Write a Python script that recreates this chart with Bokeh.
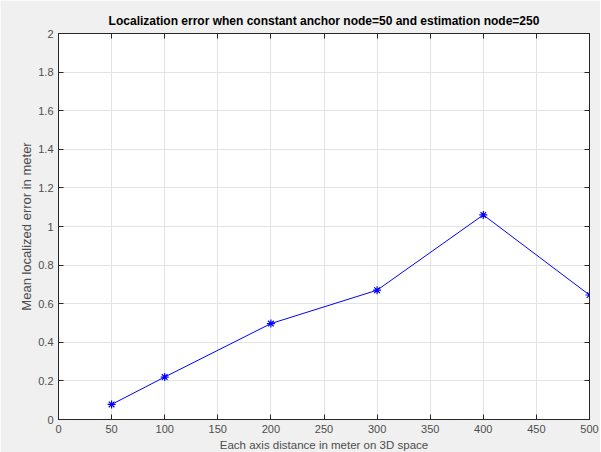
from bokeh.plotting import figure
from bokeh.models import LinearAxis, FixedTicker, Range1d
from bokeh.embed import file_html
from bokeh.resources import INLINE

distance = [50, 100, 200, 300, 400, 500]
mean_error = [0.078, 0.22, 0.497, 0.67, 1.06, 0.645]
x_ticks = [0, 50, 100, 150, 200, 250, 300, 350, 400, 450, 500]
y_ticks = [0, 0.2, 0.4, 0.6, 0.8, 1.0, 1.2, 1.4, 1.6, 1.8, 2.0]
y_tick_labels = {0: "0", 0.2: "0.2", 0.4: "0.4", 0.6: "0.6", 0.8: "0.8", 1.0: "1",
                 1.2: "1.2", 1.4: "1.4", 1.6: "1.6", 1.8: "1.8", 2.0: "2"}

FONT = "Liberation Sans"
BG = "#f0f0f0"
AX = "#262626"
LBL = "#4d4d4d"

p = figure(frame_width=531, frame_height=386, output_backend="svg", toolbar_location=None,
           x_range=Range1d(0, 500), y_range=Range1d(0, 2),
           x_axis_location=None, y_axis_location=None,
           min_border_left=58, min_border_right=11, min_border_top=33, min_border_bottom=30)
p.background_fill_color = "white"
p.border_fill_color = BG
p.outline_line_color = AX
p.outline_line_width = 1

p.title.text = "Localization error when constant anchor node=50 and estimation node=250"
p.title.text_font = FONT
p.title.text_font_size = "12px"
p.title.text_font_style = "bold"
p.title.text_color = "#000000"
p.title.align = "center"
p.title.offset = 0
p.title.standoff = 11

def style(ax, labels=True):
    ax.axis_line_color = AX
    ax.major_tick_line_color = AX
    ax.major_tick_in = 5
    ax.major_tick_out = 0
    ax.minor_tick_line_color = None
    ax.major_label_text_font = FONT
    ax.major_label_text_font_size = "11px"
    ax.major_label_text_color = LBL
    ax.axis_label_text_font = FONT
    ax.axis_label_text_font_style = "normal"
    ax.axis_label_text_color = LBL

xb = LinearAxis(ticker=FixedTicker(ticks=x_ticks), axis_label="Each axis distance in meter on 3D space")
style(xb)
xb.axis_label_text_font_size = "11.5px"
xb.major_label_standoff = 5
xb.axis_label_standoff = 3
p.add_layout(xb, "below")

yl = LinearAxis(ticker=FixedTicker(ticks=y_ticks), axis_label="Mean localized error in meter")
style(yl)
yl.axis_label_text_font_size = "13px"
yl.major_label_overrides = y_tick_labels
yl.major_label_standoff = 5
yl.axis_label_standoff = 1
p.add_layout(yl, "left")

xt = LinearAxis(ticker=FixedTicker(ticks=x_ticks))
style(xt, labels=False)
xt.major_label_overrides = {t: "" for t in x_ticks}
xt.major_label_standoff = 0
p.add_layout(xt, "above")

yr = LinearAxis(ticker=FixedTicker(ticks=y_ticks))
style(yr, labels=False)
yr.major_label_overrides = {t: "" for t in y_ticks}
yr.major_label_standoff = 0
p.add_layout(yr, "right")

p.xgrid.ticker = FixedTicker(ticks=x_ticks)
p.ygrid.ticker = FixedTicker(ticks=y_ticks)
p.grid.grid_line_color = "#e3e3e3"
p.grid.grid_line_width = 1

p.line(distance, mean_error, line_color="#0000ff", line_width=1)
p.scatter(distance, mean_error, marker="asterisk", size=8, line_color="#0000ff", line_width=1.2)

open("out.html", "w").write(file_html(p, INLINE))
